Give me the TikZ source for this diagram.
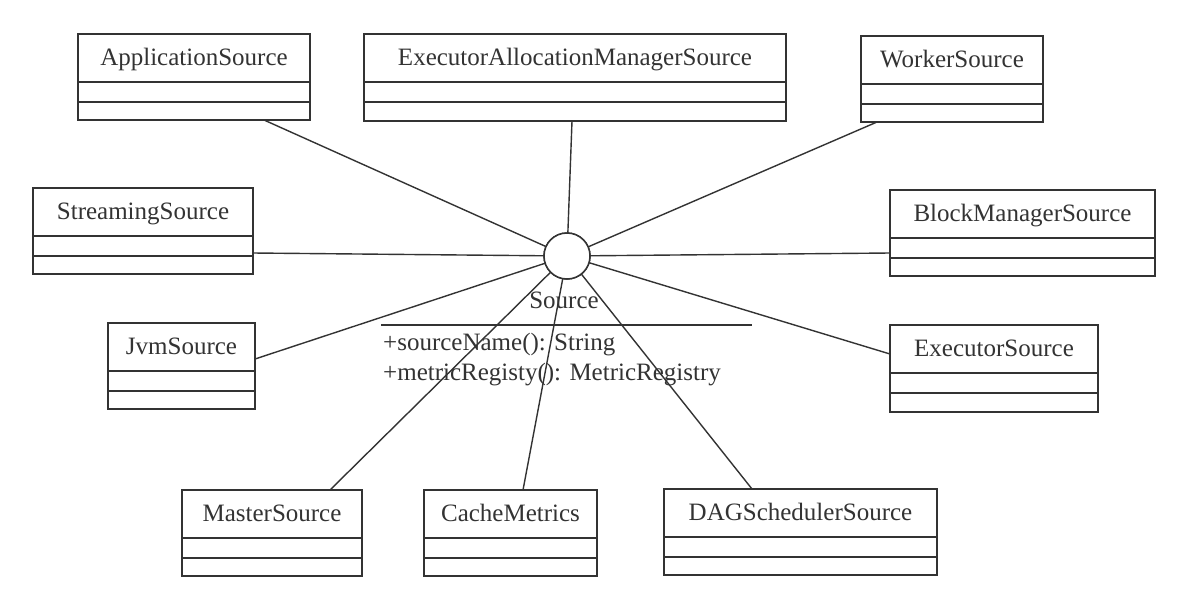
\documentclass[tikz,border=0pt]{standalone}
\usepackage{fontspec}
\setmainfont{Liberation Serif}
\usetikzlibrary{calc}
\definecolor{ink}{HTML}{333333}
\newcommand{\umlcls}[6]{%
  \node[clsbox, minimum width={#4-#2}, minimum height={#5-#3}, anchor=north west] (#1) at (#2,#3) {};
  \node[clstext, anchor=base] (#1-t) at ({(#2+#4)/2},{#3+31}) {#6};
  \draw[clsline] ($(#1.north west)+(0,48)$) -- ($(#1.north east)+(0,48)$);
  \draw[clsline] ($(#1.north west)+(0,68)$) -- ($(#1.north east)+(0,68)$);
}
\begin{document}
\begin{tikzpicture}[x=1pt,y=-1pt,
  clsbox/.style={draw=ink, line width=1.6pt, rectangle, inner sep=0pt, outer sep=0pt},
  clstext/.style={text=ink, font=\fontsize{25}{28}\selectfont, inner sep=0pt},
  clsline/.style={draw=ink, line width=1.6pt},
  conn/.style={draw=ink, line width=1.4pt},
  iface/.style={draw=ink, line width=1.5pt, circle, minimum size=46pt, inner sep=0pt, outer sep=0pt, fill=white}]
\useasboundingbox[fill=white] (0,0) rectangle (1204,592);

\umlcls{app}{78}{34}{310}{120}{ApplicationSource}
\umlcls{eams}{364}{34}{786}{121}{ExecutorAllocationManagerSource}
\umlcls{worker}{861}{36}{1043}{122}{WorkerSource}
\umlcls{stream}{33}{188}{253}{274}{StreamingSource}
\umlcls{bms}{890}{190}{1155}{276}{BlockManagerSource}
\umlcls{jvm}{108}{323}{255}{409}{JvmSource}
\umlcls{exec}{890}{325}{1098}{412}{ExecutorSource}
\umlcls{master}{182}{490}{362}{576}{MasterSource}
\umlcls{cache}{424}{490}{597}{576}{CacheMetrics}
\umlcls{dag}{664}{489}{937}{575}{DAGSchedulerSource}

% interface Source
\node[iface] (src) at (567,256) {};
\node[clstext, anchor=base] (src-name) at (564,308) {Source};
\coordinate (ul-l) at (381,325);
\coordinate (ul-r) at (752,325);
\draw[clsline] (ul-l) -- (ul-r);
\node[clstext, anchor=base west] (m1) at (383,350) {+sourceName(): String};
\node[clstext, anchor=base west] (m2) at (383,380) {+metricRegisty(): MetricRegistry};

% connectors
\draw[conn] (app.south west) ++(186,0) -- (src);
\draw[conn] (eams.south west) ++(208,0) -- (src);
\draw[conn] (worker.south west) ++(16,0) -- (src);
\draw[conn] (stream.north east) ++(0,65) -- (src);
\draw[conn] (bms.north west) ++(0,63) -- (src);
\draw[conn] (jvm.north east) ++(0,36) -- (src);
\draw[conn] (exec.north west) ++(0,29) -- (src);
\draw[conn] (master.north west) ++(148,0) -- (src);
\draw[conn] (cache.north west) ++(99,0) -- (src);
\draw[conn] (dag.north west) ++(88,0) -- (src);
\node[iface] (src2) at (src) {};
\end{tikzpicture}
\end{document}
